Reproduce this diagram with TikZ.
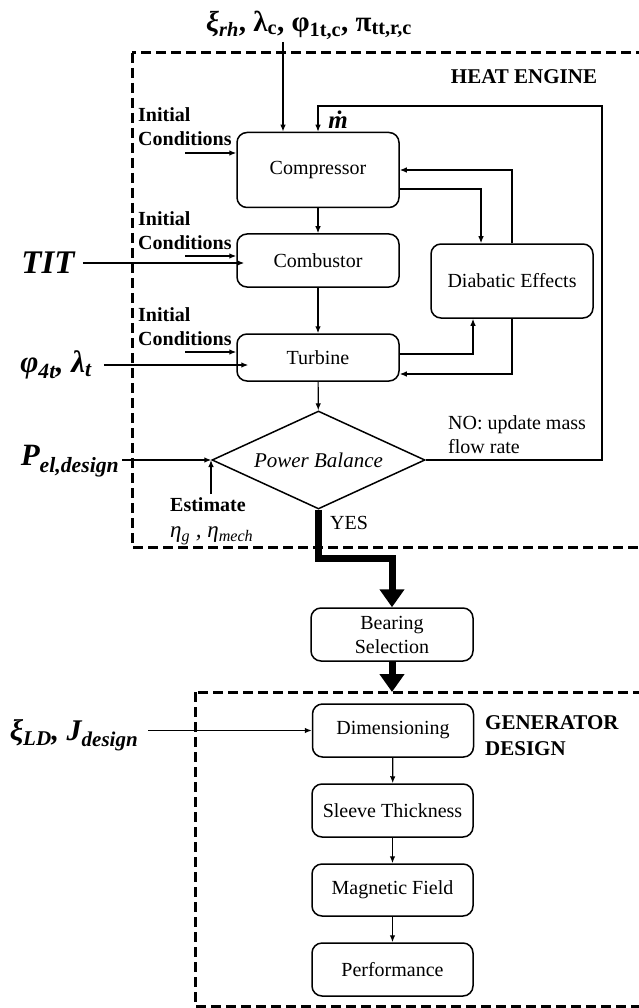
\documentclass[tikz,border=0pt]{standalone}
\usepackage{fontspec}
\setmainfont{Liberation Serif}
\usetikzlibrary{arrows.meta,calc,shapes.geometric}
\newcommand{\lowsub}[1]{\textsubscript{#1}}
\begin{document}
\begin{tikzpicture}[x=1pt,y=-1pt,
  box/.style={draw,line width=1.5pt,rounded corners=10pt,minimum width=162pt,inner sep=0pt,font=\fontsize{20}{24}\selectfont,align=center},
  arr/.style={line width=1.2pt,-{Latex[length=7pt,width=5.5pt]}},
  bigarr/.style={line width=7pt,line join=miter,-{Triangle[length=18pt,width=24pt]}},
  frame/.style={line width=3pt,dash pattern=on 10pt off 5pt},
  lbl/.style={font=\fontsize{20}{24}\selectfont\bfseries,align=left,inner sep=0pt},
  mathlbl/.style={font=\fontsize{31}{32}\selectfont\bfseries\itshape,inner sep=0pt},
  plain/.style={font=\fontsize{20}{24}\selectfont,align=left,inner sep=0pt}]
\useasboundingbox (0,0) rectangle (639,1008);
\clip (0,0) rectangle (639,1008);

% frames
\draw[frame] (132,53) rectangle (660,547);
\draw[frame] (195,692) rectangle (660,1006);

% boxes
\node[box,minimum height=75pt] (comp) at (318,170) {Compressor};
\node[box,minimum height=53pt] (comb) at (318,260.5) {Combustor};
\node[box,minimum height=47pt] (turb) at (318,357.5) {Turbine};
\node[box,minimum height=74pt] (diab) at (512,281) {Diabatic Effects};
\node[diamond,draw,line width=1.5pt,minimum width=213pt,minimum height=98pt,inner sep=0pt,aspect=2.2,font=\fontsize{21}{24}\selectfont\itshape] (pb) at (318.5,460) {Power Balance};
\node[box,minimum height=53pt] (bear) at (392,634.5) {Bearing\\Selection};
\node[box,minimum height=53pt,minimum width=161pt] (dim) at (393,730.5) {Dimensioning};
\node[box,minimum height=53pt,minimum width=161pt] (slv) at (392.5,810.5) {Sleeve Thickness};
\node[box,minimum height=52pt,minimum width=161pt] (mag) at (392.5,890) {Magnetic Field};
\node[box,minimum height=53pt,minimum width=161pt] (perf) at (392.5,969.5) {Performance};

% labels
\node[font=\fontsize{29}{30}\selectfont\bfseries,inner sep=0pt] (params) at (309,25) {{\itshape ξ\lowsub{rh}}, λ\lowsub{c}, φ\lowsub{1t,c}, π\lowsub{tt,r,c}};
\node[font=\fontsize{21}{24}\selectfont\bfseries,inner sep=0pt] (he) at (524,77) {HEAT ENGINE};
\node[font=\fontsize{25}{25}\selectfont\bfseries\itshape,inner sep=0pt] (mdot) at (338,120) {\.{m}};
\node[lbl,anchor=west] (ic1) at (138,127) {Initial\\Conditions};
\node[lbl,anchor=west] (ic2) at (138,231) {Initial\\Conditions};
\node[lbl,anchor=west] (ic3) at (138,327) {Initial\\Conditions};
\node[mathlbl,font=\fontsize{33}{34}\selectfont\bfseries\itshape] (tit) at (48,263) {TIT};
\node[mathlbl] (phi) at (56,365) {φ\lowsub{4t}, λ\lowsub{t}};
\node[mathlbl] (pel) at (70,461) {P\lowsub{el,design}};
\node[lbl,anchor=west] (estl) at (170,505) {Estimate};
\node[plain,anchor=west,font=\fontsize{23}{24}\selectfont\itshape] (eta) at (170,536) {η\lowsub{g} , η\lowsub{mech}};
\node[plain,anchor=west] (no) at (448,435) {NO: update mass\\flow rate};
\node[plain,anchor=west] (yes) at (330,523) {YES};
\node[anchor=west,font=\fontsize{21}{26}\selectfont\bfseries,align=left,inner sep=0pt] (gd) at (485,736) {GENERATOR\\DESIGN};
\node[mathlbl,font=\fontsize{30}{31}\selectfont\bfseries\itshape] (xld) at (74,735) {ξ\lowsub{LD}, J\lowsub{design}};

% input arrows
\coordinate (pin) at (283,42);
\draw[arr,line width=2pt] (pin) -- (pin |- comp.north);
\coordinate (a1) at (185,153);
\draw[arr] (a1) -- (a1 -| comp.west);
\coordinate (a2) at (185,256);
\draw[arr] (a2) -- (a2 -| comb.west);
\coordinate (a3) at (185,352);
\draw[arr] (a3) -- (a3 -| turb.west);
\draw[arr] ([xshift=8pt]tit.east) -- ([xshift=8pt]tit.east -| comb.west);
\draw[arr] ([xshift=12pt]phi.east) -- ([xshift=12pt]phi.east -| turb.west);
\draw[arr] (pb.west -| pel.east) ++(3,0) -- (pb.west);
\coordinate (est) at (211,494);
\draw[arr] (est) -- (est |- pb.west);
\draw[arr] (xld.east |- dim.west) ++(10,0) -- (dim.west);

% flow
\draw[arr] (comp) -- (comb);
\draw[arr] (comb) -- (turb);
\draw[arr] (turb) -- (pb);
\draw[arr] ($(comp.east)+(0,19)$) -| ($(diab.north)+(-31,0)$);
\draw[arr] (diab.north) |- (comp.east);
\draw[arr] ($(turb.east)+(0,-3.5)$) -| ($(diab.south)+(-39,0)$);
\draw[arr] (diab.south) |- ($(turb.east)+(0,16.5)$);
\coordinate (lr) at (602,106);
\draw[arr] (pb.east) -| (lr) -| (comp.north);

\draw[arr] (dim) -- (slv);
\draw[arr] (slv) -- (mag);
\draw[arr] (mag) -- (perf);

% thick arrows
\draw[bigarr] (pb.south) -- ++(0,49) -| (bear.north);
\coordinate (gtop) at (392,692);
\draw[bigarr] (bear.south) -- (gtop);
\end{tikzpicture}
\end{document}
